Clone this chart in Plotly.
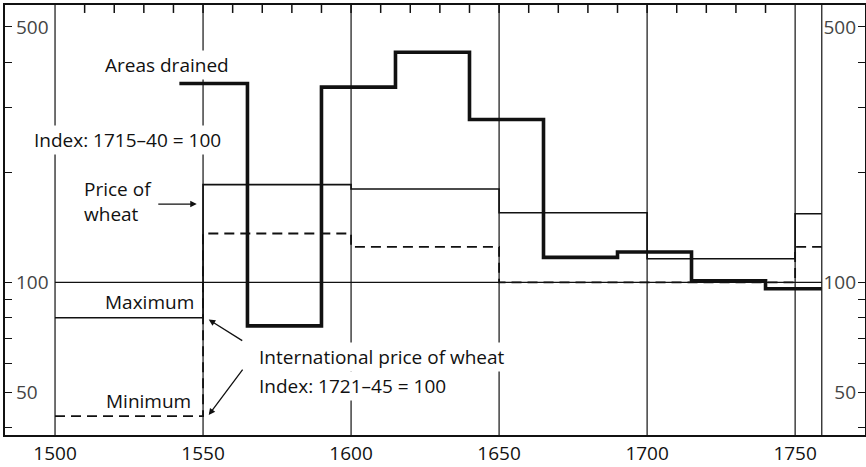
import math
import plotly.graph_objects as go

# ---- data ----
areas_years = [1542, 1565, 1590, 1615, 1640, 1665, 1690, 1715, 1740, 1759]
areas_values = [350, 76, 342, 426, 279, 117, 121, 101, 96]

max_years = [1500, 1550, 1600, 1650, 1700, 1750, 1759]
max_values = [80, 185, 180, 155, 116, 154]

min_years = [1500, 1550, 1600, 1650, 1750, 1759]
min_values = [43, 136, 125, 100, 125]

x_tick_labels = [1500, 1550, 1600, 1650, 1700, 1750]
y_tick_values = [40, 50, 60, 70, 80, 90, 100, 200, 300, 400, 500]
y_tick_labels = ["", "50", "", "", "", "", "100", "", "", "", "500"]
top_tick_values = list(range(1510, 1750, 10))

START, END = 1500, 1759
BASE = 100

FONT = "'Open Sans', Lato, sans-serif"
FS = 19
BLACK = "#111111"

WIDTH, HEIGHT = 866, 467
MARGIN = dict(l=5, r=1, t=5, b=30)
PLOT_H = HEIGHT - MARGIN["t"] - MARGIN["b"]
TOP_TICK_LEN = 8  # px


def step(xs, ys):
    return xs, list(ys) + [ys[-1]]


fig = go.Figure()

ax, ay = step(max_years, max_values)
fig.add_trace(go.Scatter(x=ax, y=ay, mode="lines", line_shape="hv",
                         line=dict(color=BLACK, width=1.6), hoverinfo="skip"))
ax, ay = step(min_years, min_values)
fig.add_trace(go.Scatter(x=ax, y=ay, mode="lines", line_shape="hv",
                         line=dict(color=BLACK, width=1.8, dash="10px,6px"),
                         hoverinfo="skip"))
ax, ay = step(areas_years, areas_values)
fig.add_trace(go.Scatter(x=ax, y=ay, mode="lines", line_shape="hv",
                         line=dict(color=BLACK, width=3.6), hoverinfo="skip"))

# invisible trace for the right-hand axis
fig.add_trace(go.Scatter(x=[START], y=[BASE], xaxis="x", yaxis="y2",
                         mode="markers", marker=dict(opacity=0),
                         hoverinfo="skip"))

shapes = []
for xv in x_tick_labels + [END]:
    shapes.append(dict(type="line", xref="x", yref="paper", x0=xv, x1=xv,
                       y0=0, y1=1, line=dict(color=BLACK, width=1.2),
                       layer="below"))
shapes.append(dict(type="line", xref="x", yref="y", x0=START, x1=END,
                   y0=BASE, y1=BASE, line=dict(color=BLACK, width=1.3),
                   layer="below"))
# ten-year ticks along the top edge
for xv in top_tick_values:
    shapes.append(dict(type="line", xref="x", yref="paper", x0=xv, x1=xv,
                       y0=1 - TOP_TICK_LEN / PLOT_H, y1=1,
                       line=dict(color=BLACK, width=1.5), layer="above"))

ylo, yhi = math.log10(38.2), math.log10(574)
xlo, xhi = 1483.1, 1773.6

axis_common = dict(showline=True, linecolor=BLACK, linewidth=1.6,
                   showgrid=False, zeroline=False)

fig.update_layout(
    width=WIDTH, height=HEIGHT,
    margin=MARGIN,
    paper_bgcolor="white", plot_bgcolor="white",
    showlegend=False,
    font=dict(family=FONT, size=FS, color=BLACK),
    shapes=shapes,
    xaxis=dict(range=[xlo, xhi], tickvals=x_tick_labels, ticks="",
               tickfont=dict(size=FS), mirror=True, **axis_common),
    yaxis=dict(type="log", range=[ylo, yhi], tickvals=y_tick_values,
               ticktext=y_tick_labels, ticks="inside", ticklen=7,
               tickwidth=1.3, tickcolor=BLACK, ticklabelposition="inside",
               ticklabelstandoff=5, tickfont=dict(size=FS), **axis_common),
    yaxis2=dict(type="log", range=[ylo, yhi], overlaying="y", side="right",
                tickvals=y_tick_values, ticktext=y_tick_labels,
                ticks="inside", ticklen=7, tickwidth=1.3, tickcolor=BLACK,
                ticklabelposition="inside", ticklabelstandoff=3,
                tickfont=dict(size=FS), **axis_common),
)

ann = [
    dict(text="Areas drained", x=0.1138, y=0.861, xanchor="left",
         yanchor="middle", bgcolor="white"),
    dict(text="Index: 1715–40 = 100", x=0.0314, y=0.685, xanchor="left",
         yanchor="middle", bgcolor="white"),
    dict(text="Price of<br>wheat", x=0.0894, y=0.543, xanchor="left",
         yanchor="middle", align="left"),
    dict(text="Maximum", x=0.2218, y=0.310, xanchor="right",
         yanchor="middle"),
    dict(text="Minimum", x=0.2184, y=0.0787, xanchor="right",
         yanchor="middle"),
    dict(text="International price of wheat", x=0.2927, y=0.1806,
         xanchor="left", yanchor="middle", bgcolor="white"),
    dict(text="Index: 1721–45 = 100", x=0.2927, y=0.1134,
         xanchor="left", yanchor="middle", bgcolor="white"),
]
for a in ann:
    a.update(xref="paper", yref="paper", showarrow=False,
             font=dict(family=FONT, size=FS, color=BLACK))
    fig.add_annotation(**a)

arrows = [
    dict(x=0.223, y=0.537, ax=-40, ay=0),
    dict(x=0.2369, y=0.2685, ax=35, ay=22),
    dict(x=0.2369, y=0.0463, ax=35, ay=-47),
]
for a in arrows:
    fig.add_annotation(xref="paper", yref="paper", text="", showarrow=True,
                       arrowhead=2, arrowsize=1, arrowwidth=1.3,
                       arrowcolor=BLACK, axref="pixel", ayref="pixel", **a)

fig.write_html("out.html", config={"displayModeBar": False},
               post_script="document.body.style.margin='0px';"
                           "document.body.style.overflow='hidden';")
